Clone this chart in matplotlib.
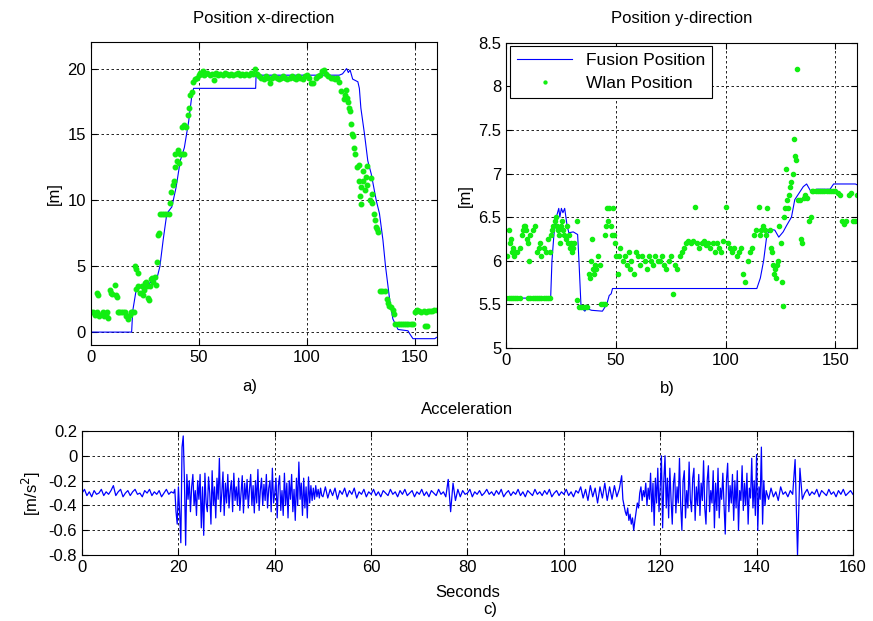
import numpy as np
import matplotlib
matplotlib.use('Agg')
import matplotlib.pyplot as plt

plt.rcParams['font.family'] = ['Liberation Sans', 'DejaVu Sans']
plt.rcParams['font.size'] = 12
plt.rcParams['axes.unicode_minus'] = False

# ---- fused position x (vertices of the track) ----
fus_x_t = [0, 18.9, 19.4, 21.2, 25, 28, 30.5, 32, 33.5, 35.2, 37.5, 39.5, 41.4, 43.3, 45.3, 46.8, 47.6,
           76.3, 76.5, 115, 116.5, 118.4, 119.2, 120, 121.2, 123.6, 124.3, 125, 126.7, 128.2, 129.8,
           132.1, 133.6, 135.2, 136.4, 138.3, 139.8, 142.2, 146.8, 147.5, 149.1, 159.2, 160]
fus_x = [0, 0, 1.6, 3.4, 3.5, 3.8, 4.0, 5.0, 7.0, 9.0, 9.5, 11.0, 13.0, 14.0, 16.0, 18.0, 18.5,
         18.5, 19.5, 19.5, 19.6, 20.0, 19.7, 19.9, 19.2, 19.0, 18.5, 17.0, 15.0, 13.0, 12.0,
         10.0, 9.0, 7.0, 5.0, 2.5, 1.0, 0.2, 0.1, -0.1, -0.5, -0.5, -0.4]

# ---- wlan position x ----
wlan_x_t = [0, 1, 2, 3, 3, 3.5, 4, 5, 5.5, 6, 7, 7.5, 8, 9, 9.5, 10, 11, 11.5, 12, 12.5, 13, 14, 15, 16,
            16.5, 17, 18, 18.5, 19, 20, 20.5, 21, 21, 22, 22, 23, 23.5, 24, 24.5, 25, 25.5, 26, 26.5, 27,
            27.5, 28, 28.5, 29, 29.5, 30, 30.5, 31, 31.5, 32, 33, 34, 35, 36, 36.5, 37, 38, 38.5, 39, 39,
            40, 40.5, 41, 41.5, 42, 43, 42, 43, 44, 45, 45.5, 46, 47, 47.5, 48, 49,
            50, 50.5, 51, 52, 52.5, 53, 54, 55, 56, 57, 57.5, 58, 59, 60, 61, 62, 63, 64, 65, 66, 67, 68,
            69, 70, 71, 72, 73, 74, 75, 76, 77, 78, 79, 80, 81, 82, 83, 84, 85, 86, 87, 88, 89, 90, 91,
            92, 93, 94, 95, 96, 97, 98, 99, 100, 101, 102, 103, 104, 105, 106, 107, 108, 109, 110, 111,
            112, 113, 114, 115,
            116, 117, 117.5, 118, 118.5, 119, 119.5, 120, 120.5, 121, 121.5, 122, 122.5, 123, 124, 124,
            124.5, 125, 125, 126, 126, 127, 127.5, 128, 128, 129, 129.5, 130, 130, 131, 131.5, 132, 132.5,
            133, 134, 135, 136, 137, 137.5, 138, 139, 140, 140.5, 141, 142, 143, 144, 145, 146, 147, 148,
            149, 150, 150.5, 151, 152, 153, 154, 155, 156, 157, 158, 159, 160, 154.5, 155.5]
wlan_x = [1.5, 1.5, 1.3, 3.0, 1.5, 2.8, 1.2, 1.4, 1.5, 1.2, 1.3, 1.5, 1.1, 3.2, 3.0, 2.9, 3.6, 2.8,
          2.7, 1.5, 1.5, 1.5, 1.5, 1.5, 1.2, 1.0, 1.3, 1.5, 1.5, 1.5, 5.0, 4.8, 3.3, 3.5, 4.5, 3.0,
          3.5, 2.8, 3.2, 3.7, 3.8, 3.5, 2.6, 2.4, 3.5, 4.0, 4.1, 3.8, 4.2, 3.6, 5.3, 7.4, 7.5, 9.0,
          9.0, 9.0, 9.0, 9.0, 9.8, 10.6, 11.2, 11.5, 12.5, 13.5, 13.0, 13.8, 12.8, 13.5, 13.5, 13.5,
          15.6, 15.7, 15.6, 16.5, 17.0, 18.0, 18.2, 19.0, 19.2, 19.3,
          19.5, 19.7, 19.6, 19.8, 19.5, 19.6, 19.7, 19.5, 19.6, 19.1, 19.6, 19.7, 19.5, 19.6, 19.5,
          19.7, 19.6, 19.5, 19.6, 19.5, 19.6, 19.7, 19.5, 19.6, 19.5, 19.6, 19.5, 19.7, 19.6, 20.0,
          19.6, 19.4, 19.3, 19.2, 19.4, 19.3, 18.9, 19.3, 19.4, 19.3, 19.2, 19.3, 19.4, 19.3, 19.2,
          19.3, 19.4, 19.3, 19.2, 19.4, 19.3, 19.2, 19.4, 19.5, 19.3, 18.9, 18.9, 19.3, 19.4, 19.5,
          19.8, 19.9, 19.6, 19.4, 19.3, 19.3, 19.2, 19.3, 19.0,
          18.3, 17.7, 18.0, 18.4, 17.8, 17.5, 17.0, 16.8, 15.8, 15.0, 14.9, 14.0, 13.5, 12.5, 12.7,
          11.5, 10.3, 9.7, 11.0, 11.5, 12.2, 10.8, 11.8, 12.6, 11.2, 10.0, 11.7, 10.5, 9.8, 9.0, 8.5,
          8.0, 7.8, 7.6, 3.1, 3.1, 3.1, 2.5, 2.2, 2.0, 1.9, 1.7, 1.4, 0.6, 0.6, 0.6, 0.6, 0.6, 0.6,
          0.6, 0.6, 0.6, 1.5, 1.6, 1.7, 1.6, 1.5, 1.6, 1.5, 1.6, 1.6, 1.6, 1.7, 1.7, 0.5, 0.5]

# ---- fused position y ----
fus_y_t = [0, 20.2, 20.8, 21.7, 22.8, 23.9, 24.4, 25.1, 25.8, 26.6, 27.7, 28.5, 30.5, 32.5, 33.1,
           34.0, 34.6, 35.8, 36.6, 38.9, 43.8, 45.8, 46.9, 47.8, 48.4, 114.2, 115.8, 117.3, 118.8,
           120.5, 122.4, 124.2, 126.2, 127.7, 130.0, 131.5, 135.4, 136.9, 138.7, 141.5, 147.6,
           149.2, 159.1, 160]
fus_y = [5.57, 5.57, 6.0, 6.3, 6.5, 6.6, 6.5, 6.6, 6.55, 6.6, 6.4, 6.32, 6.33, 6.3, 6.0,
         5.5, 5.45, 5.42, 5.45, 5.43, 5.42, 5.5, 5.6, 5.62, 5.68, 5.68, 5.8, 6.0, 6.3,
         6.36, 6.35, 6.27, 6.33, 6.4, 6.5, 6.7, 6.85, 6.88, 6.8, 6.82, 6.82,
         6.88, 6.88, 6.87]

# ---- wlan position y ----
wlan_y_t = [0, 1, 2, 3, 4, 5, 6, 10, 11, 12, 13, 14, 15, 16, 17, 18, 19, 20,
            0.5, 1, 1.5, 2, 2.5, 3, 3.5, 4, 5, 6, 7, 7.5, 8, 8.5, 9, 9.5, 10, 10.5, 11, 12, 13, 14,
            15, 15.5, 16, 17, 18, 19, 20, 20.5, 21, 21.5, 22, 22.5, 23, 23.5, 24, 24.5, 25, 25.5, 26,
            26.5, 27, 27.5, 28, 28.5, 29, 29.5, 30, 30.5, 31, 32, 32, 33, 34, 35, 36, 37, 37.5, 38,
            38.5, 39, 39.5, 40, 40.5, 41, 42, 42.5, 43, 44, 45, 45, 45.5, 46, 46.5, 47, 47.5, 48, 48.5,
            49, 49.5, 50, 51, 51.5, 52, 53, 54, 55, 56, 56.5, 57, 58, 59, 60, 61, 62, 63, 64, 65, 66,
            67, 68, 69, 70, 71, 72, 73, 74, 75, 76, 77, 78, 79, 80, 81, 82, 83, 84, 85, 86, 87, 88, 89,
            90, 91, 92, 93, 94, 95, 96, 97, 98, 99, 100, 101, 102, 103, 104, 105, 106, 107, 108, 109,
            110, 111, 112, 113, 114, 115, 115.5, 116, 117, 118, 118.5, 119, 120, 120.5, 121, 121.5,
            122, 122.5, 123, 123.5, 124, 124.5, 125, 125.5, 126, 126.5, 127, 127.5, 128, 128.5, 129,
            129.5, 130, 130.5, 131, 131.5, 132, 132.5, 133, 134, 134.5, 135, 135.5, 136, 137, 138,
            139, 139.5, 140, 141, 142, 143, 144, 145, 146, 147, 148, 149, 150, 151, 152, 153, 154,
            155, 156, 157, 158, 159, 160]
wlan_y = [5.57, 5.57, 5.57, 5.57, 5.57, 5.57, 5.57, 5.57, 5.57, 5.57, 5.57, 5.57, 5.57, 5.57, 5.57,
          5.57, 5.57, 5.57,
          6.05, 6.35, 6.2, 6.25, 6.1, 6.15, 6.05, 6.1, 6.1, 6.15, 6.3, 6.35, 6.4, 6.4, 6.35, 6.25,
          6.2, 6.0, 6.3, 6.35, 6.4, 6.1, 6.15, 6.2, 6.05, 6.15, 6.1, 6.25, 6.1, 6.3, 6.35, 6.4,
          6.45, 6.5, 6.4, 6.35, 6.3, 6.2, 6.4, 6.45, 6.35, 6.3, 6.25, 6.4, 6.2, 6.3, 6.15, 6.2,
          6.1, 6.15, 6.2, 6.45, 5.55, 5.47, 5.47, 5.47, 5.47, 5.47, 5.85, 5.8, 6.0, 6.25, 5.9,
          5.85, 5.95, 5.9, 6.05, 5.95, 5.5, 5.5, 5.5, 6.3, 6.4, 6.6, 6.45, 6.6, 6.4, 6.3, 6.6,
          6.3, 6.2, 6.05, 5.85, 6.05, 6.15, 6.0, 6.05, 5.95, 6.1, 5.9, 6.0, 5.85, 6.1, 6.05,
          5.95, 6.05, 6.0, 5.9, 6.05, 6.0, 5.95, 6.05, 6.0, 6.0, 6.05, 5.95, 5.9, 6.0, 6.05,
          5.62, 5.95, 5.9, 6.05, 6.1, 6.15, 6.2, 6.22, 6.2, 6.22, 6.62, 6.2, 6.15, 6.2, 6.22,
          6.18, 6.2, 6.15, 6.2, 6.1, 6.2, 6.15, 6.1, 6.22, 6.62, 6.2, 6.15, 6.1, 6.15, 6.05,
          6.1, 6.15, 5.85, 5.75, 6.0, 6.1, 6.15, 6.3, 6.35, 6.62, 6.3, 6.35, 6.4, 6.35, 6.3,
          6.6, 6.35, 6.15, 6.1, 5.95, 5.85, 5.9, 5.8, 5.95, 6.0, 6.4, 6.2, 5.75, 5.48, 6.5,
          6.6, 7.05, 6.7, 6.6, 6.75, 6.85, 6.9, 7.0, 7.4, 7.2, 7.15, 8.2, 6.7, 6.7, 6.25, 6.2,
          6.72, 6.75, 6.72, 6.45, 6.5, 6.8, 6.8, 6.8, 6.8, 6.8, 6.8, 6.8, 6.8, 6.8, 6.8, 6.8,
          6.8, 6.78, 6.75, 6.45, 6.42, 6.45, 6.75, 6.78, 6.45, 6.45, 6.75]

# ---- acceleration, in pieces: (start time, step, values) ----
acc_quiet_a = [-0.30, -0.27, -0.32, -0.29, -0.33, -0.28, -0.31, -0.30, -0.27, -0.32,
               -0.29, -0.31, -0.28, -0.24, -0.32, -0.29, -0.27, -0.33, -0.30, -0.28,
               -0.32, -0.29, -0.27, -0.31, -0.30, -0.33, -0.28, -0.30, -0.27, -0.32,
               -0.29, -0.31, -0.28, -0.33, -0.30, -0.27, -0.31, -0.29]
acc_burst_a = [-0.30, -0.27, -0.45, -0.55,
               -0.25, -0.45, -0.70, 0.07,
               0.16, -0.20, -0.72, -0.15,
               -0.35, -0.20, -0.45, -0.25,
               -0.15, -0.40, -0.28, -0.48,
               -0.20, -0.35, -0.15, -0.58,
               -0.25, -0.64, -0.14, -0.38,
               -0.45, -0.17, -0.30, -0.55,
               -0.12, -0.40, -0.25, -0.50,
               -0.18, -0.35, -0.02, -0.45,
               -0.30, -0.13, -0.48, -0.22,
               -0.38, -0.15, -0.42, -0.28,
               -0.20, -0.45, -0.14, -0.36,
               -0.25, -0.40, -0.18, -0.44,
               -0.30, -0.16, -0.46, -0.22,
               -0.35, -0.19, -0.42, -0.27,
               -0.15, -0.40, -0.24, -0.46,
               -0.20, -0.38, -0.11, -0.44,
               -0.28, -0.18, -0.40, -0.23,
               -0.36, -0.15, -0.42, -0.26,
               -0.20, -0.45, -0.10, -0.38,
               -0.30, -0.18, -0.50, -0.24,
               -0.16, -0.44, -0.28, -0.48,
               -0.14, -0.40, -0.22, -0.50,
               -0.20, -0.35, -0.15, -0.45,
               -0.27, -0.52, -0.18, -0.40,
               -0.05, -0.35, -0.22, -0.48,
               -0.18, -0.42, -0.25, -0.50,
               -0.17, -0.38, -0.24, -0.36,
               -0.26, -0.35, -0.24, -0.33,
               -0.27, -0.34, -0.26, -0.32]
acc_quiet_b = [-0.33, -0.25, -0.34, -0.27, -0.32, -0.26, -0.35, -0.28, -0.31, -0.26,
               -0.33, -0.28, -0.31, -0.26, -0.34, -0.29, -0.31, -0.27, -0.33, -0.29,
               -0.31, -0.27, -0.32, -0.29, -0.33, -0.28, -0.30, -0.32, -0.27, -0.31,
               -0.29, -0.33, -0.28, -0.31, -0.27, -0.32, -0.30, -0.28, -0.33, -0.29,
               -0.31, -0.27, -0.32, -0.29, -0.33, -0.28, -0.30, -0.32, -0.27, -0.31,
               -0.29, -0.33, -0.19, -0.45, -0.22, -0.36, -0.27, -0.33, -0.28, -0.31,
               -0.30, -0.27, -0.33, -0.29, -0.31, -0.28, -0.32, -0.30, -0.27, -0.31,
               -0.29, -0.32, -0.28, -0.31, -0.27, -0.33, -0.30, -0.28, -0.32, -0.29,
               -0.31, -0.27, -0.32, -0.29, -0.33, -0.28, -0.30, -0.32, -0.27, -0.31,
               -0.29, -0.32, -0.28, -0.31, -0.27, -0.33, -0.30, -0.28, -0.32, -0.29,
               -0.31, -0.27, -0.32, -0.29, -0.33, -0.28, -0.30, -0.25, -0.34, -0.27,
               -0.36, -0.24, -0.33, -0.26, -0.38, -0.25, -0.34, -0.22, -0.36, -0.25,
               -0.35, -0.24, -0.33, -0.27]
acc_burst_b = [-0.16, -0.35, -0.40, -0.45,
               -0.48, -0.42, -0.52, -0.47,
               -0.55, -0.50, -0.60, -0.52,
               -0.45, -0.38, -0.42, -0.30,
               -0.25, -0.36, -0.28, -0.33,
               -0.22, -0.40, -0.26, -0.35,
               -0.14, -0.45, -0.22, -0.56,
               -0.18, -0.38, -0.10, -0.45,
               -0.25, 0.00, -0.58, -0.20,
               0.00, -0.42, -0.18, -0.50,
               -0.10, -0.35, -0.55, -0.22,
               -0.14, -0.46, -0.25, -0.38,
               -0.02, -0.40, -0.60, -0.20,
               -0.12, -0.50, -0.28, -0.42,
               -0.05, -0.35, -0.45, -0.18,
               -0.10, -0.52, -0.25, -0.40,
               -0.15, -0.48, -0.22, -0.36,
               -0.04, -0.42, -0.55, -0.20,
               -0.08, -0.45, -0.28, -0.38,
               -0.12, -0.58, -0.22, -0.44,
               -0.10, -0.50, -0.26, -0.35,
               -0.14, -0.40, -0.63, -0.20,
               -0.06, -0.45, -0.24, -0.38,
               -0.15, -0.52, -0.20, -0.42,
               -0.12, -0.60, -0.28, -0.36,
               -0.08, -0.44, -0.22, -0.40,
               -0.14, -0.55, -0.26, -0.34,
               -0.02, -0.42, -0.20, -0.48,
               0.01, -0.60, -0.25, -0.35,
               0.07, -0.55, -0.20, -0.40]
acc_tail = [-0.28, -0.35, -0.26, -0.33, -0.29, -0.36, -0.25, -0.31, -0.29, -0.33,
            -0.28, -0.31, -0.03, -0.80, -0.10, -0.35, -0.30, -0.27, -0.32, -0.29,
            -0.31, -0.27, -0.33, -0.28, -0.30, -0.32, -0.27, -0.31, -0.29, -0.33,
            -0.28, -0.31, -0.27, -0.32, -0.30, -0.28, -0.31]
acc_pieces = [(0, 0.5, acc_quiet_a), (19, 0.25, acc_burst_a), (50, 0.5, acc_quiet_b),
              (112, 0.25, acc_burst_b), (142, 0.5, acc_tail)]

acc_t = np.concatenate([t0 + dt * np.arange(len(v)) for t0, dt, v in acc_pieces])
acc = np.concatenate([v for t0, dt, v in acc_pieces])

blue = '#0000ff'
green = '#11ee11'


def style(ax):
    ax.grid(True, color='black', linestyle=(0, (3, 3)), linewidth=0.6)
    ax.tick_params(direction='in', top=True, right=True, length=4, labelsize=12)
    for s in ax.spines.values():
        s.set_linewidth(0.8)


fig = plt.figure(figsize=(8.73, 6.21), dpi=100)

ax1 = fig.add_axes([0.104, 0.444, 0.396, 0.488])
ax1.plot(fus_x_t, fus_x, color=blue, lw=0.8)
ax1.plot(wlan_x_t, wlan_x, '.', color=green, ms=6.5, mec=green)
ax1.set_xlim(0, 160)
ax1.set_ylim(-1, 22)
ax1.set_xticks([0, 50, 100, 150])
ax1.set_yticks([0, 5, 10, 15, 20])
ax1.set_ylabel('[m]')
ax1.set_title('Position x-direction', fontsize=12, pad=14)
style(ax1)

ax2 = fig.add_axes([0.580, 0.440, 0.402, 0.491])
ax2.plot(fus_y_t, fus_y, color=blue, lw=0.8, label='Fusion Position')
ax2.plot(wlan_y_t, wlan_y, '.', color=green, ms=6, mec=green, label='Wlan Position')
ax2.set_xlim(0, 160)
ax2.set_ylim(5, 8.5)
ax2.set_xticks([0, 50, 100, 150])
ax2.set_yticks([5, 5.5, 6, 6.5, 7, 7.5, 8, 8.5])
ax2.set_yticklabels(['5', '5.5', '6', '6.5', '7', '7.5', '8', '8.5'])
ax2.set_ylabel('[m]')
ax2.set_title('Position y-direction', fontsize=12, pad=14)
style(ax2)
leg = ax2.legend(loc='upper left', fontsize=12.5, fancybox=False, framealpha=1,
                 edgecolor='black', borderaxespad=0.2, handlelength=3.2, labelspacing=0.45,
                 markerscale=0.7)
leg.get_frame().set_linewidth(0.8)

ax3 = fig.add_axes([0.094, 0.106, 0.883, 0.200])
ax3.plot(acc_t, acc, color=blue, lw=0.9)
ax3.set_xlim(0, 160)
ax3.set_ylim(-0.8, 0.2)
ax3.set_xticks(range(0, 161, 20))
ax3.set_yticks([-0.8, -0.6, -0.4, -0.2, 0, 0.2])
ax3.set_yticklabels(['-0.8', '-0.6', '-0.4', '-0.2', '0', '0.2'])
ax3.set_ylabel('[m/s$^2$]')
ax3.set_xlabel('Seconds', labelpad=7)
ax3.set_title('Acceleration', fontsize=12, pad=12)
style(ax3)

fig.text(0.286, 0.378, 'a)', ha='center', va='center', fontsize=12)
fig.text(0.765, 0.374, 'b)', ha='center', va='center', fontsize=12)
fig.text(0.561, 0.019, 'c)', ha='center', va='center', fontsize=12)

fig.savefig('out.png', dpi=100)
